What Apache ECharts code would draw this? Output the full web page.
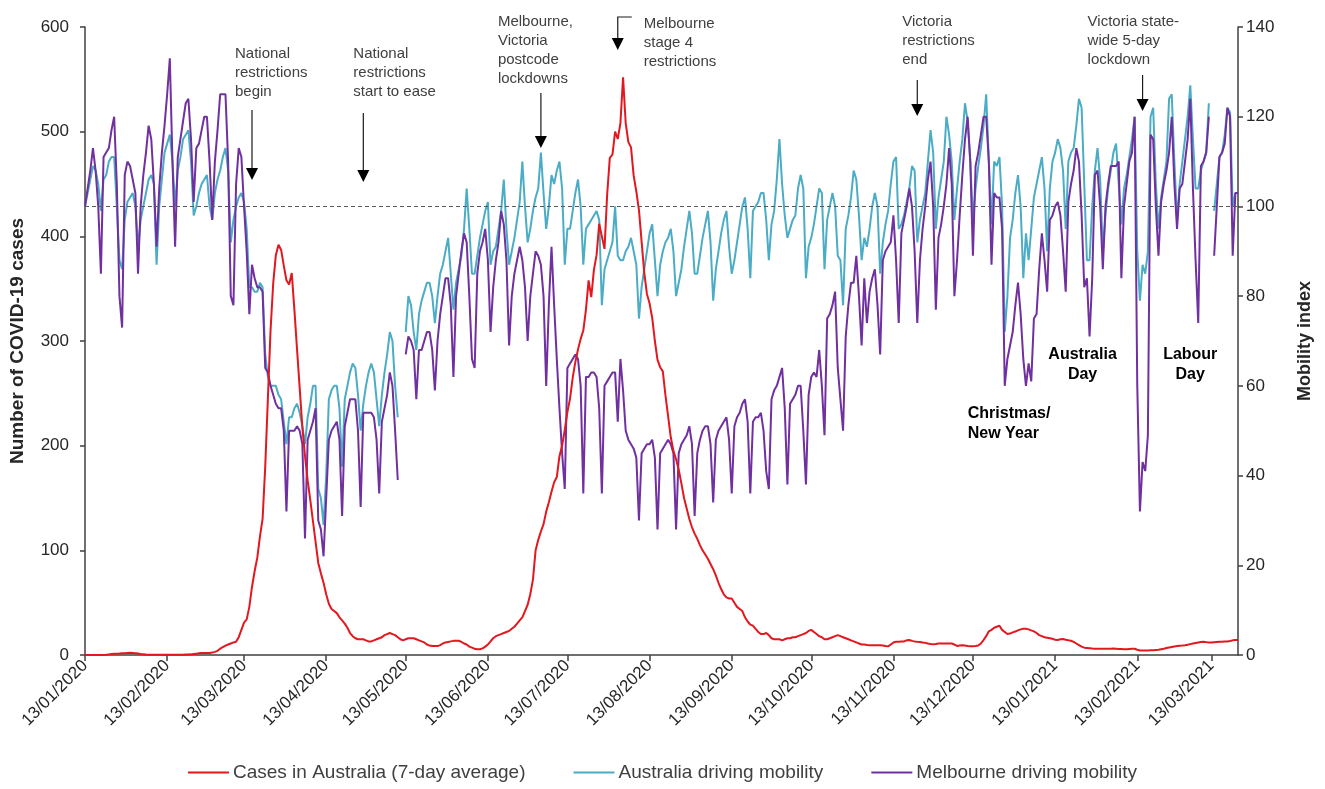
<!DOCTYPE html>
<html><head><meta charset="utf-8">
<script src="https://cdn.jsdelivr.net/npm/echarts@6/dist/echarts.min.js"></script>
<style>html,body{margin:0;padding:0;background:#fff}#c{width:1325px;height:789px}</style>
</head><body><div id="c"></div>
<script>
// ---- data (daily, starting Monday 13/01/2020) ----
const startDate = {y: 2020, m: 0, d: 13};
const dayCount = 436;

// Cases in Australia (7-day average)
const casesAus = [
0,0,0,0,0,0,0,
0.1,0.3,0.6,0.9,1.1,1.3,1.4,
1.6,1.7,1.9,2.1,2,1.7,1.4,
1,0.7,0.4,0.3,0.3,0.3,0.3,
0.3,0.2,0.2,0.2,0.2,0.2,0.2,
0.2,0.2,0.3,0.4,0.5,0.6,1,
1.3,1.6,1.9,2,1.9,2,2.3,
3,4,6,7.5,9,10,11,
12,12.6,17,24,31,34,46,
65,80,93,113,130,180,245,
310,355,382,392,387,372,358,
354,365,330,292,255,218,190,
167,148,128,108,88,78,69,
58,49,44,42,40,36,33,
30,26,21,18,16,15,15,
15,14,13,13,14,15,16,
17,19,20,21,20,19,17,
15,14,15,16,16,16,15,
14,13,12,10,9,8.5,8.5,
8.5,9.5,11,12,12.5,13,13.5,
13.6,13.6,12.5,11,10,8,7,
6,5.4,5.5,6.3,8,10,13,
16,18,19,20,21,22,23,
25,27,30,33,36,42,48,
58,72,100,110,118,125,137,
146,156,165,170,190,200,215,
232,245,265,280,292,302,310,
330,358,342,368,382,412,400,
388,440,475,478,500,493,508,
552,508,490,485,458,443,425,
395,365,345,336,322,300,282,
275,271,248,228,208,195,187,
177,164,150,140,130,122,116,
111,105,100,96,92,87,82,
76,69,63,58,55,54,54,
50,46,44,42,36,32,29,
28,25,22,20,20,21,19,
16,15,15,15,14,15,16,
16,17,17,18,19,20,21,
23,24,22,20,18,17,15,
15,16,17,18,19,18,17,
16,15,14,13,12,11,10,
10,9.5,9.3,9.3,9.3,9.3,9.3,
9,8.5,8.3,10,12,12.6,12.6,
13,13,14,14.3,13.5,13,12.6,
12.5,12,11.6,11,10.5,10.3,10.5,
11,11,11,11,11,11,10,
8.6,9,9.3,9,8.5,8.3,8.3,
8.5,9,11,14.3,18,22.6,24,
26,27,28,24,22,20,20.5,
21.6,22.5,23.5,24.5,25,25,24.5,
23.5,22.6,21,19,18,17,16.5,
16,15.5,14.5,14.3,15,15.3,14.5,
14,13.6,12.5,11,9.5,8,7,
6.8,6.5,6.2,6,6,6,6,
6,6,6,6.2,6,5.8,5.8,
5.6,5.6,5.8,6,6,5,4.3,
4.3,4.3,4.3,4.5,4.6,4.8,5,
5.5,6,6.6,7.2,7.7,8.2,8.5,
8.8,9,9.3,9.8,10.4,11,11.5,
12,12.5,12.6,12.3,12,12,12.2,
12.4,12.6,12.6,12.8,13,13.3,14,
14.3,14.3
];

// Australia driving mobility (index, baseline 100)
const ausMobility = [
100,103,106,109,108,105,99,
106,107,110,111,111,100,88,
86,97,101,102,103,100,91,
97,100,103,106,107,105,87,
100,106,112,114,116,110,100,
108,111,115,116,117,110,98,
100,103,105,106,107,100,97,
103,106,108,111,113,108,92,
97,100,102,103,101,95,82,
82,81,81,83,82,67,62,
60,60,60,58,57,52,47,
53,53,55,56,54,51,47,
53,56,60,60,37,35,29,
40,57,59,60,60,55,42,
57,60,63,65,64,58,50,
56,60,63,65,63,57,51,
58,63,67,72,70,60,53,
null,null,72,80,78,72,68,
76,79,81,83,83,80,74,
80,85,87,90,93,85,77,
83,86,89,95,104,95,85,
85,89,93,96,99,101,87,
90,91,95,99,106,95,87,
90,93,97,101,110,100,92,
95,99,102,104,112,103,95,
100,107,105,108,110,104,87,
95,95,99,103,106,100,87,
95,96,97,98,99,97,78,
86,88,90,92,100,89,88,
88,90,91,93,90,87,75,
82,86,90,94,96,88,80,
87,90,92,93,95,90,80,
83,86,91,95,99,94,85,
85,89,93,96,99,92,79,
86,90,94,97,99,91,85,
88,92,96,100,102,95,84,
99,100,101,103,103,97,88,
96,99,106,115,105,98,93,
95,97,98,104,107,104,84,
91,93,96,100,104,103,86,
97,100,103,100,89,88,78,
95,98,102,108,106,98,88,
93,91,95,100,103,100,85,
92,96,99,105,110,111,95,
96,98,101,104,109,108,92,
97,100,103,110,117,112,95,
102,106,110,120,116,110,97,
104,110,115,123,119,110,97,
104,109,113,118,125,110,96,
110,109,111,100,72,80,93,
97,103,107,100,84,94,88,
95,102,105,108,111,104,90,
104,110,112,115,113,108,95,
110,112,113,118,124,122,105,
88,88,100,108,113,106,90,
98,104,108,112,114,105,96,
104,107,111,115,120,90,79,
87,85,90,120,122,105,95,
102,106,110,124,125,110,97,
105,110,115,120,127,115,104,
104,108,110,112,123,null,99,
105,111,112,116,122,121,100,
103,103
];

// Melbourne driving mobility
const melMobility = [
100,104,108,113,108,100,85,
111,112,113,117,120,105,80,
73,107,110,109,106,103,85,
100,107,112,118,115,105,91,
104,112,118,125,133,110,91,
111,115,119,123,124,115,101,
113,114,117,120,120,110,97,
110,117,125,125,125,110,80,
78,105,113,111,100,90,76,
87,84,82,82,81,64,63,
60,58,56,55,55,50,32,
50,50,50,51,50,47,26,
48,50,52,55,30,28,22,
35,48,50,51,52,48,31,
51,54,57,57,57,50,33,
54,54,54,54,53,48,36,
52,55,58,63,60,50,39,
null,null,67,71,70,68,57,
68,68,70,72,72,68,59,
70,76,80,84,84,78,62,
80,85,90,94,92,80,66,
64,85,90,92,95,88,72,
82,88,92,99,96,88,69,
80,85,88,91,88,82,70,
80,85,90,89,87,80,60,
78,91,78,66,55,45,37,
64,65,66,67,66,60,36,
62,62,63,63,62,55,36,
60,61,62,63,63,52,66,
59,50,48,47,46,44,30,
45,46,47,47,48,44,28,
45,46,47,48,47,45,28,
45,47,48,49,51,47,31,
45,48,50,51,51,47,34,
48,50,51,52,53,48,36,
51,53,54,56,57,52,36,
52,53,53,54,50,41,37,
57,59,60,62,64,55,38,
56,57,58,60,60,50,38,
58,62,63,62,68,60,49,
75,76,78,81,64,57,50,
71,78,83,83,89,80,69,
84,74,81,84,86,78,67,
88,90,91,92,98,88,74,
94,97,100,104,100,90,74,
88,95,100,106,110,100,77,
93,96,100,105,113,105,80,
88,98,107,115,120,110,89,
109,112,116,120,120,110,87,
103,102,102,95,60,66,69,
72,78,83,76,66,60,65,
61,75,76,86,94,88,81,
97,98,100,101,98,90,81,
101,105,108,113,110,98,82,
84,71,84,107,108,100,86,
100,105,109,109,109,110,84,
100,105,110,112,120,60,32,
43,41,49,116,115,100,89,
101,105,108,112,120,105,95,
104,105,110,115,124,104,88,
74,109,110,112,120,null,89,
100,111,112,114,122,120,89,
103,103
];

const baselineIndex = 100;
const casesTicks = {min: 0, max: 600, interval: 100};
const mobilityTicks = {min: 0, max: 140, interval: 20};

// Annotations (day index from start)
const arrowNotes = [
  {day: 63,  text: 'National\nrestrictions\nbegin'},
  {day: 105, text: 'National\nrestrictions\nstart to ease'},
  {day: 172, text: 'Melbourne,\nVictoria\npostcode\nlockdowns'},
  {day: 314, text: 'Victoria\nrestrictions\nend'},
  {day: 399, text: 'Victoria state-\nwide 5-day\nlockdown'}
];
const stage4Note = {day: 201, text: 'Melbourne\nstage 4\nrestrictions'};
const boldNotes = [
  {day: 347, text: 'Christmas/\nNew Year'},
  {day: 379, text: 'Australia\nDay'},
  {day: 420, text: 'Labour\nDay'}
];

// ---- categories ----
const categories = [];
for (let i = 0; i < dayCount; i++) {
  const dt = new Date(Date.UTC(startDate.y, startDate.m, startDate.d + i));
  const dd = String(dt.getUTCDate()).padStart(2, '0');
  const mm = String(dt.getUTCMonth() + 1).padStart(2, '0');
  categories.push(dd + '/' + mm + '/' + dt.getUTCFullYear());
}
const isMonthTick = (idx, val) => categories[idx].startsWith('13/');

const FONT = '"Liberation Sans", Arial, sans-serif';
const chart = echarts.init(document.getElementById('c'), null, {renderer: 'canvas'});

const axisLineStyle = {color: '#404040', width: 1.5};
const C_RED = '#E3171E', C_BLUE = '#4BACC6', C_PURPLE = '#7030A0';
chart.setOption({
  animation: false,
  backgroundColor: '#fff',
  textStyle: {fontFamily: FONT},
  grid: {left: 84, right: 87, top: 27, bottom: 134, containLabel: false},
  legend: {
    bottom: 2, left: 'center', itemWidth: 41, itemHeight: 2, itemGap: 48,
    icon: 'rect',
    data: [
      {name: 'Cases in Australia (7-day average)', icon: 'rect', itemStyle: {color: C_RED}},
      {name: 'Australia driving mobility', icon: 'rect', itemStyle: {color: C_BLUE}},
      {name: 'Melbourne driving mobility', icon: 'rect', itemStyle: {color: C_PURPLE}}
    ],
    textStyle: {fontSize: 19, color: '#404040', fontFamily: FONT, padding: [0, 0, 0, -1]}
  },
  xAxis: {
    type: 'category', data: categories, boundaryGap: false,
    axisLine: {lineStyle: axisLineStyle},
    axisTick: {show: true, interval: isMonthTick, length: 6, lineStyle: axisLineStyle},
    axisLabel: {interval: isMonthTick, rotate: 45, fontSize: 17, color: '#262626', margin: 8, fontFamily: FONT},
    splitLine: {show: false}
  },
  yAxis: [
    {
      type: 'value', min: casesTicks.min, max: casesTicks.max, interval: casesTicks.interval,
      name: 'Number of COVID-19 cases', nameLocation: 'middle', nameGap: 58, nameRotate: 90,
      nameTextStyle: {fontSize: 19, fontWeight: 'bold', color: '#262626', fontFamily: FONT},
      axisLine: {show: true, lineStyle: axisLineStyle},
      axisTick: {show: true, length: 5, lineStyle: axisLineStyle},
      axisLabel: {fontSize: 17, color: '#262626', margin: 16, fontFamily: FONT},
      splitLine: {show: false}
    },
    {
      type: 'value', min: mobilityTicks.min, max: mobilityTicks.max, interval: mobilityTicks.interval,
      name: 'Mobility index', nameLocation: 'middle', nameGap: 58, nameRotate: 90,
      nameTextStyle: {fontSize: 18, fontWeight: 'bold', color: '#262626', fontFamily: FONT},
      axisLine: {show: true, lineStyle: axisLineStyle},
      axisTick: {show: true, length: 5, lineStyle: axisLineStyle},
      axisLabel: {fontSize: 17, color: '#262626', margin: 8, fontFamily: FONT},
      splitLine: {show: false}
    }
  ],
  series: [
    {
      name: 'Australia driving mobility', type: 'line', yAxisIndex: 1, data: ausMobility,
      symbol: 'none', showSymbol: false, connectNulls: false, z: 2,
      lineStyle: {color: C_BLUE, width: 2}, itemStyle: {color: C_BLUE}
    },
    {
      name: 'Melbourne driving mobility', type: 'line', yAxisIndex: 1, data: melMobility,
      symbol: 'none', showSymbol: false, connectNulls: false, z: 3,
      lineStyle: {color: C_PURPLE, width: 2}, itemStyle: {color: C_PURPLE},
      markLine: {
        silent: true, symbol: ['none', 'none'], label: {show: false},
        lineStyle: {color: '#595959', type: [4, 3], width: 1.2},
        data: [{yAxis: baselineIndex}]
      }
    },
    {
      name: 'Cases in Australia (7-day average)', type: 'line', yAxisIndex: 0, data: casesAus,
      symbol: 'none', showSymbol: false, z: 4,
      lineStyle: {color: C_RED, width: 2}, itemStyle: {color: C_RED}
    }
  ]
});

// ---- annotations ----
const px = (day) => chart.convertToPixel({xAxisIndex: 0}, categories[day]);
const graphics = [];
function arrow(x, y1, y2) {
  graphics.push({type: 'line', silent: true, shape: {x1: x, y1: y1, x2: x, y2: y2 - 10},
    style: {stroke: '#1a1a1a', lineWidth: 1.2}});
  graphics.push({type: 'polygon', silent: true, shape: {points: [[x - 6, y2 - 12], [x + 6, y2 - 12], [x, y2]]},
    style: {fill: '#000'}});
}
function note(x, y, text, bold, align) {
  graphics.push({type: 'text', silent: true, x: x, y: y,
    style: {text: text, font: (bold ? 'bold 16px ' : '15px ') + FONT,
      fill: bold ? '#000' : '#404040', lineHeight: bold ? 20 : 19,
      textAlign: align || 'left', align: align || 'left', textVerticalAlign: 'top', verticalAlign: 'top'}});
}
const arrowLayout = [
  {dx: -17, top: 44, y1: 110, y2: 180},
  {dx: -10, top: 44, y1: 113, y2: 182},
  {dx: -43, top: 12, y1: 93, y2: 148},
  {dx: -15, top: 12, y1: 80, y2: 116},
  {dx: -55, top: 12, y1: 75, y2: 111}
];
arrowNotes.forEach((n, i) => {
  const x = px(n.day), L = arrowLayout[i];
  note(x + L.dx, L.top, n.text, false);
  arrow(x, L.y1, L.y2);
});
{
  const x = px(stage4Note.day);
  note(x + 26, 14, stage4Note.text, false);
  graphics.push({type: 'polyline', silent: true, shape: {points: [[x + 14, 17], [x, 17], [x, 40]]},
    style: {stroke: '#1a1a1a', lineWidth: 1.2, fill: null}});
  graphics.push({type: 'polygon', silent: true, shape: {points: [[x - 6, 38], [x + 6, 38], [x, 50]]},
    style: {fill: '#000'}});
}
note(px(boldNotes[0].day) - 37, 404, boldNotes[0].text, true, 'left');
note(px(boldNotes[1].day) - 7, 345, boldNotes[1].text, true, 'center');
note(px(boldNotes[2].day) - 8, 345, boldNotes[2].text, true, 'center');

chart.setOption({graphic: {elements: graphics}});
</script>
</body></html>
